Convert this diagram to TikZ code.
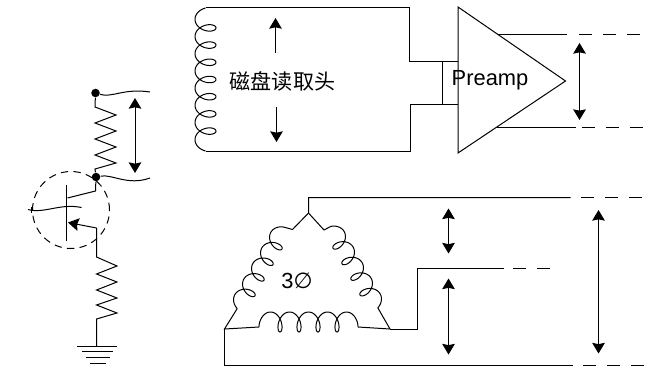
\documentclass[tikz,border=0pt]{standalone}
\usepackage{fontspec}
\setmainfont{Liberation Sans}
\newfontfamily\cjk{Noto Sans CJK SC}
\newfontfamily\symb{DejaVu Sans}
\usetikzlibrary{arrows.meta}

% coil along an axis: origin, angle, loops, pitch, amplitude, back-swing, tail
\newcommand{\coil}[7]{
	\draw[shift={#1},rotate=#2] plot[domain={-#7}:{360*#3+#7},samples=240]
		({#4*(\x/360)+#6*sin(\x)},{#5*(1-cos(\x))/2});
}

\tikzset{
	wire/.style={line width=0.75pt,line join=miter},
	dashwire/.style={line width=0.75pt,dash pattern=on 10pt off 8pt},
	span/.style={line width=0.75pt,{Stealth[length=8pt,width=9.5pt,inset=1pt]}-{Stealth[length=8pt,width=9.5pt,inset=1pt]}},
	single/.style={line width=0.75pt,-{Stealth[length=8pt,width=9.5pt,inset=1pt]}},
	dot/.style={circle,fill=black,inner sep=0pt,minimum size=6.4pt},
	textlab/.style={inner sep=0pt,font=\fontsize{16.4pt}{18pt}\selectfont}
}

\begin{document}
\begin{tikzpicture}[x=0.75pt,y=0.75pt,wire]
	\useasboundingbox (0,0) rectangle (648,-367);

	% read head and preamp
	\begin{scope}
		\coordinate (headtop) at (205.5,-8);
		\coordinate (headbot) at (205.5,-151);
		\coordinate (topturn) at (409.5,-8);
		\coordinate (topin) at (409.5,-62);
		\coordinate (ampa) at (458,-62);
		\coordinate (botturn) at (410.5,-151);
		\coordinate (botin) at (410.5,-104.5);
		\coordinate (ampb) at (458,-104.5);
		\coordinate (shunta) at (442.5,-62);
		\coordinate (shuntb) at (442.5,-104.5);
		\coordinate (tipa) at (458,-7);
		\coordinate (tipb) at (458,-153);
		\coordinate (tipc) at (565.5,-81);
		\coordinate (outa) at (498,-35);
		\coordinate (outb) at (497,-127.5);
		\coordinate (outaend) at (567,-35);
		\coordinate (outbend) at (575.5,-127.5);
		\coordinate (outadash) at (579,-35);
		\coordinate (outbdash) at (582,-127.5);
		\coordinate (outastop) at (644,-35);
		\coordinate (outbstop) at (644,-127.5);

		\coil{(195,-19.3)}{-90}{7}{17.2}{21}{7}{90}
		\draw (headtop) -- (topturn) -- (topin) -- (ampa);
		\draw (headbot) -- (botturn) -- (botin) -- (ampb);
		\draw (shunta) -- (shuntb);
		\draw (tipa) -- (tipc) -- (tipb) -- cycle;
		\draw (outa) -- (outaend);
		\draw (outb) -- (outbend);
		\draw[dashwire] (outadash) -- (outastop);
		\draw[dashwire] (outbdash) -- (outbstop);

		\node[textlab,font=\cjk\fontsize{15.8pt}{18pt}\selectfont] (headlabel) at (282.5,-81) {磁盘读取头};
		\node[textlab] (amplabel) at (490,-80) {Preamp};

		\coordinate (upa) at (275.5,-53);
		\coordinate (upb) at (275.5,-18);
		\coordinate (downa) at (276.5,-107);
		\coordinate (downb) at (276.5,-142);
		\coordinate (outspana) at (579.5,-43);
		\coordinate (outspanb) at (579.5,-120);
		\draw[single] (upa) -- (upb);
		\draw[single] (downa) -- (downb);
		\draw[span] (outspana) -- (outspanb);
	\end{scope}

	% transistor branch
	\begin{scope}
		\node[dot] (dota) at (95.5,-93) {};
		\node[dot] (dotb) at (96,-177) {};
		\coordinate (wavea) at (150,-92);
		\coordinate (waveb) at (150,-178);
		\coordinate (rtopa) at (95,-107);
		\coordinate (rtopb) at (95,-169);
		\coordinate (coll) at (95.5,-191);
		\coordinate (collbar) at (67.5,-198);
		\coordinate (bara) at (66.5,-185);
		\coordinate (barb) at (66.5,-241);
		\coordinate (emit) at (96.5,-228);
		\coordinate (emitbar) at (68,-222.5);
		\coordinate (rbota) at (96.5,-257);
		\coordinate (rbotb) at (96.5,-319);
		\coordinate (gnd) at (96.5,-346);
		\coordinate (basea) at (28,-209.5);
		\coordinate (baseb) at (81.5,-207.5);
		\coordinate (ticka) at (31.5,-207);
		\coordinate (tickb) at (31.5,-213);
		\coordinate (spana) at (135,-98);
		\coordinate (spanb) at (135,-173);

		\draw (dota) -- (rtopa) -- (116,-115) -- (95,-123) -- (116,-131) -- (95,-139) -- (116,-147) -- (95,-155) -- (116,-163) -- (rtopb) -- (dotb);
		\draw (dota) .. controls (112,-98) and (124,-88) .. (wavea);
		\draw (dotb) .. controls (112,-174) and (128,-186) .. (waveb);
		\draw[span] (spana) -- (spanb);
		\draw (dotb) -- (coll) -- (collbar);
		\draw (bara) -- (barb);
		\draw[single] (emit) -- (emitbar);
		\draw (basea) .. controls (44,-214) and (60,-203) .. (baseb);
		\draw (ticka) -- (tickb);
		\draw[dashed,dash pattern=on 5.5pt off 4pt] (71,-210) circle (38.5);
		\draw (emit) -- (rbota) -- (117,-266) -- (96.5,-274) -- (117,-282) -- (96.5,-290) -- (117,-298) -- (96.5,-305) -- (117,-313) -- (rbotb) -- (gnd);
		\foreach \y/\a/\b in {346/77/117,351.7/82/113,357/86/110,363/90/106}
			\draw (\a,-\y) -- (\b,-\y);
	\end{scope}

	% motor windings
	\begin{scope}
		\coordinate (apex) at (308.5,-213);
		\coordinate (lefta) at (292.5,-229.5);
		\coordinate (leftb) at (284.2,-227.2);
		\coordinate (leftc) at (237.2,-308.6);
		\coordinate (righta) at (324,-230);
		\coordinate (rightb) at (330.8,-226.4);
		\coordinate (rightc) at (377.8,-307.8);
		\coordinate (cornerl) at (224.5,-329);
		\coordinate (cornerr) at (390,-329);
		\coordinate (bota) at (259,-327);
		\coordinate (botb) at (358,-327);
		\coordinate (wiretop) at (308.5,-197.5);
		\coordinate (wiretopend) at (570.5,-197.5);
		\coordinate (wiremid) at (417.5,-329);
		\coordinate (wiremidb) at (417.5,-268.5);
		\coordinate (wiremidend) at (503.5,-268.5);
		\coordinate (wirebot) at (224.5,-365);
		\coordinate (wirebotend) at (572.5,-365);
		\coordinate (dasha) at (581,-197.5);
		\coordinate (dashaend) at (644,-197.5);
		\coordinate (dashb) at (513,-268.5);
		\coordinate (dashbend) at (552,-268.5);
		\coordinate (dashc) at (583,-365);
		\coordinate (dashcend) at (644,-365);

		\coil{(270.9,-232.2)}{240}{4}{18}{18}{6.5}{90}
		\coil{(380.1,-293.8)}{120}{4}{18}{18}{6.5}{90}
		\coil{(346.5,-312)}{180}{4}{19}{20}{6}{120}
		\draw (wiretopend) -- (wiretop) -- (apex) -- (lefta) -- (leftb);
		\draw (apex) -- (righta) -- (rightb);
		\draw (leftc) -- (cornerl) -- (bota);
		\draw (rightc) -- (cornerr) -- (botb);
		\draw (cornerr) -- (wiremid) -- (wiremidb) -- (wiremidend);
		\draw (cornerl) -- (wirebot) -- (wirebotend);
		\draw[dashwire] (dasha) -- (dashaend);
		\draw[dashwire] (dashb) -- (dashbend);
		\draw[dashwire] (dashc) -- (dashcend);

		\node[textlab] (phase) at (297,-281) {3{\symb ∅}};

		\coordinate (sa) at (448.5,-208.5);
		\coordinate (sb) at (448.5,-253.5);
		\coordinate (sc) at (448.5,-278.5);
		\coordinate (sd) at (448.5,-354.5);
		\coordinate (se) at (598.5,-210);
		\coordinate (sf) at (598.5,-353.5);
		\draw[span] (sa) -- (sb);
		\draw[span] (sc) -- (sd);
		\draw[span] (se) -- (sf);
	\end{scope}
\end{tikzpicture}
\end{document}
